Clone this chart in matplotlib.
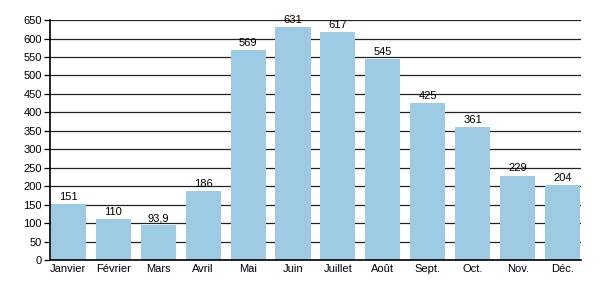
import matplotlib
matplotlib.use("Agg")
import matplotlib.pyplot as plt

plt.rcParams['font.family'] = ['Liberation Sans', 'DejaVu Sans']

mois = ["Janvier", "Février", "Mars", "Avril", "Mai", "Juin",
        "Juillet", "Août", "Sept.", "Oct.", "Nov.", "Déc."]
valeurs = [151, 110, 93.9, 186, 569, 631, 617, 545, 425, 361, 229, 204]
etiquettes = ["151", "110", "93,9", "186", "569", "631",
              "617", "545", "425", "361", "229", "204"]

fig = plt.figure(figsize=(6, 3), dpi=100)
ax = fig.add_axes([0.0833, 0.133, 0.885, 0.8])

x = range(len(mois))
bars = ax.bar(x, valeurs, width=0.78, color="#9dcbe4", zorder=2)
for b, t in zip(bars, etiquettes):
    ax.text(b.get_x() + b.get_width() / 2, b.get_height() + 6, t,
            ha="center", va="bottom", fontsize=8, zorder=3)

ax.set_xlim(-0.41, 11.41)
ax.set_ylim(0, 650)
ax.set_yticks(range(0, 651, 50))
ax.set_xticks(list(x))
ax.set_xticklabels(mois)
ax.yaxis.grid(True, color="#222222", linewidth=0.9, zorder=1)
ax.set_axisbelow(True)
ax.tick_params(axis="y", length=4, width=0.9, labelsize=8, pad=2)
ax.tick_params(axis="x", length=0, labelsize=8, pad=3)
for s in ["top", "right"]:
    ax.spines[s].set_visible(False)
ax.spines["left"].set_linewidth(1.2)
ax.spines["bottom"].set_linewidth(1.2)

fig.savefig("out.png", dpi=100)
